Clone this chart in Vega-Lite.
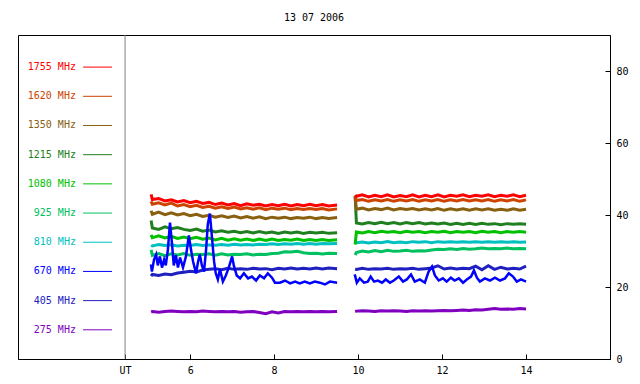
{
"$schema":"https://vega.github.io/schema/vega-lite/v6.json",
"width":592,"height":324,
"autosize":"none",
"padding":{"left":18,"top":35,"right":30,"bottom":25},
"title":{"text":"13 07 2006","font":"DejaVu Sans Mono","fontSize":10,"fontWeight":"normal","color":"black","anchor":"middle","offset":12},
"config":{"view":{"stroke":"black","strokeWidth":1},"axis":{"labelFont":"DejaVu Sans Mono","labelFontSize":10,"labelColor":"black","domainColor":"black","gridOpacity":0,"tickColor":"black"}},
"datasets":{
"leg":[
{"k":"r","label":"1755 MHz","rank":10},{"k":"o","label":"1620 MHz","rank":9},{"k":"b","label":"1350 MHz","rank":8},{"k":"g","label":"1215 MHz","rank":7},{"k":"l","label":"1080 MHz","rank":6},{"k":"e","label":"925 MHz","rank":5},{"k":"c","label":"810 MHz","rank":4},{"k":"n","label":"670 MHz","rank":3},{"k":"d","label":"405 MHz","rank":2},{"k":"p","label":"275 MHz","rank":1}],
"wide":[
{"t":5.07,"s":"a","r":45.7,"o":43.8,"b":41.2,"g":38.5,"l":34.5,"e":30.3,"c":31.6,"d":23.0,"p":13.1},
{"t":5.10,"s":"a","r":44.3,"o":43.0,"b":40.2,"g":36.4,"l":33.7,"e":28.8,"c":31.4,"d":23.5,"p":13.2},
{"t":5.25,"s":"a","r":44.6,"o":43.4,"b":40.8,"g":36.0,"l":34.2,"e":29.3,"c":31.8,"d":23.2,"p":13.0},
{"t":5.40,"s":"a","r":43.9,"o":42.8,"b":40.1,"g":36.7,"l":33.6,"e":28.7,"c":31.5,"d":23.6,"p":13.2},
{"t":5.55,"s":"a","r":44.2,"o":43.3,"b":40.6,"g":36.2,"l":34.1,"e":29.2,"c":31.7,"d":23.4,"p":13.3},
{"t":5.70,"s":"a","r":43.6,"o":42.5,"b":40.0,"g":36.5,"l":33.5,"e":28.9,"c":31.4,"d":23.9,"p":13.2},
{"t":5.85,"s":"a","r":44.0,"o":42.9,"b":40.4,"g":36.0,"l":33.9,"e":29.3,"c":31.6,"d":24.1,"p":13.1},
{"t":6.00,"s":"a","r":43.4,"o":42.3,"b":39.8,"g":35.7,"l":33.4,"e":28.8,"c":31.5,"d":24.4,"p":13.2},
{"t":6.15,"s":"a","r":43.8,"o":42.7,"b":40.2,"g":36.1,"l":33.8,"e":29.1,"c":31.8,"d":24.2,"p":13.1},
{"t":6.30,"s":"a","r":43.2,"o":42.1,"b":39.6,"g":35.5,"l":33.3,"e":29.0,"c":31.5,"d":24.7,"p":13.3},
{"t":6.45,"s":"a","r":43.5,"o":42.4,"b":39.9,"g":35.8,"l":33.6,"e":29.2,"c":31.7,"d":24.9,"p":13.2},
{"t":6.60,"s":"a","r":42.9,"o":41.9,"b":39.4,"g":35.3,"l":33.1,"e":28.8,"c":31.6,"d":25.1,"p":13.1},
{"t":6.75,"s":"a","r":43.3,"o":42.3,"b":39.8,"g":35.6,"l":33.5,"e":29.2,"c":31.8,"d":24.8,"p":13.2},
{"t":6.90,"s":"a","r":42.8,"o":41.8,"b":39.3,"g":35.2,"l":33.0,"e":28.9,"c":31.6,"d":25.2,"p":13.1},
{"t":7.05,"s":"a","r":43.2,"o":42.2,"b":39.7,"g":35.5,"l":33.4,"e":29.1,"c":31.9,"d":24.9,"p":13.2},
{"t":7.20,"s":"a","r":42.6,"o":41.7,"b":39.2,"g":35.1,"l":33.0,"e":29.0,"c":31.7,"d":25.1,"p":13.0},
{"t":7.35,"s":"a","r":43.1,"o":42.0,"b":39.6,"g":35.4,"l":33.3,"e":29.2,"c":31.8,"d":24.9,"p":13.1},
{"t":7.50,"s":"a","r":42.7,"o":41.6,"b":39.1,"g":35.0,"l":32.9,"e":28.9,"c":31.7,"d":25.2,"p":13.2},
{"t":7.65,"s":"a","r":43.0,"o":42.0,"b":39.5,"g":35.4,"l":33.3,"e":29.1,"c":31.9,"d":25.0,"p":12.9},
{"t":7.80,"s":"a","r":42.5,"o":41.5,"b":39.0,"g":35.0,"l":32.9,"e":29.0,"c":31.8,"d":25.1,"p":12.6},
{"t":7.95,"s":"a","r":42.9,"o":41.9,"b":39.4,"g":35.3,"l":33.3,"e":29.3,"c":32.0,"d":24.8,"p":13.1},
{"t":8.10,"s":"a","r":42.6,"o":41.6,"b":39.1,"g":34.9,"l":32.9,"e":29.4,"c":31.8,"d":25.2,"p":12.8},
{"t":8.25,"s":"a","r":43.0,"o":41.9,"b":39.4,"g":35.3,"l":33.2,"e":29.8,"c":32.0,"d":25.0,"p":13.2},
{"t":8.40,"s":"a","r":42.5,"o":41.5,"b":39.0,"g":35.0,"l":33.0,"e":29.7,"c":31.9,"d":25.3,"p":13.1},
{"t":8.55,"s":"a","r":42.9,"o":41.8,"b":39.3,"g":35.3,"l":33.3,"e":29.9,"c":32.1,"d":25.0,"p":13.2},
{"t":8.70,"s":"a","r":42.6,"o":41.5,"b":39.1,"g":34.9,"l":32.9,"e":29.5,"c":31.9,"d":25.2,"p":13.1},
{"t":8.85,"s":"a","r":43.0,"o":41.8,"b":39.4,"g":35.2,"l":33.2,"e":29.3,"c":32.1,"d":25.0,"p":13.2},
{"t":9.00,"s":"a","r":42.6,"o":41.5,"b":39.0,"g":35.0,"l":32.9,"e":29.4,"c":31.9,"d":25.3,"p":13.1},
{"t":9.15,"s":"a","r":42.9,"o":41.8,"b":39.3,"g":35.2,"l":33.2,"e":29.2,"c":32.1,"d":25.0,"p":13.2},
{"t":9.30,"s":"a","r":42.5,"o":41.4,"b":39.0,"g":34.9,"l":32.9,"e":29.4,"c":32.0,"d":25.3,"p":13.1},
{"t":9.50,"s":"a","r":42.8,"o":41.7,"b":39.3,"g":35.1,"l":33.1,"e":29.3,"c":32.1,"d":25.1,"p":13.2},
{"t":9.93,"s":"b","r":45.5,"o":45.2,"b":45.0,"g":45.4,"l":31.8,"e":28.9,"c":32.3,"d":25.0,"p":13.2},
{"t":9.96,"s":"b","r":45.2,"o":44.0,"b":41.6,"g":37.8,"l":35.3,"e":29.6,"c":32.3,"d":24.9,"p":13.3},
{"t":10.10,"s":"b","r":45.6,"o":44.3,"b":41.9,"g":37.5,"l":35.0,"e":30.0,"c":32.5,"d":25.2,"p":13.4},
{"t":10.25,"s":"b","r":45.0,"o":43.8,"b":41.4,"g":37.9,"l":35.4,"e":29.7,"c":32.2,"d":24.9,"p":13.3},
{"t":10.40,"s":"b","r":45.5,"o":44.2,"b":41.8,"g":37.6,"l":35.1,"e":30.1,"c":32.5,"d":25.1,"p":13.2},
{"t":10.55,"s":"b","r":45.1,"o":43.9,"b":41.5,"g":38.0,"l":35.5,"e":29.8,"c":32.3,"d":25.0,"p":13.4},
{"t":10.70,"s":"b","r":45.6,"o":44.3,"b":41.9,"g":37.6,"l":35.2,"e":30.2,"c":32.6,"d":25.2,"p":13.3},
{"t":10.85,"s":"b","r":45.0,"o":43.8,"b":41.4,"g":37.9,"l":35.4,"e":29.9,"c":32.3,"d":24.9,"p":13.4},
{"t":11.00,"s":"b","r":45.4,"o":44.2,"b":41.8,"g":37.5,"l":35.1,"e":30.0,"c":32.5,"d":25.1,"p":13.3},
{"t":11.15,"s":"b","r":45.1,"o":43.9,"b":41.5,"g":37.9,"l":35.5,"e":30.2,"c":32.3,"d":25.0,"p":13.2},
{"t":11.30,"s":"b","r":45.6,"o":44.3,"b":41.8,"g":37.6,"l":35.2,"e":29.9,"c":32.6,"d":25.2,"p":13.4},
{"t":11.45,"s":"b","r":45.0,"o":43.8,"b":41.4,"g":37.9,"l":35.4,"e":30.1,"c":32.4,"d":24.9,"p":13.3},
{"t":11.60,"s":"b","r":45.5,"o":44.2,"b":41.7,"g":37.5,"l":35.1,"e":30.0,"c":32.6,"d":25.1,"p":13.4},
{"t":11.75,"s":"b","r":45.1,"o":43.9,"b":41.4,"g":37.8,"l":35.4,"e":30.3,"c":32.3,"d":25.3,"p":13.3},
{"t":11.90,"s":"b","r":45.6,"o":44.3,"b":41.8,"g":37.5,"l":35.2,"e":30.5,"c":32.6,"d":25.9,"p":13.4},
{"t":12.05,"s":"b","r":45.0,"o":43.8,"b":41.3,"g":37.8,"l":35.5,"e":30.4,"c":32.4,"d":25.0,"p":13.5},
{"t":12.20,"s":"b","r":45.5,"o":44.2,"b":41.7,"g":37.4,"l":35.1,"e":30.6,"c":32.6,"d":25.3,"p":13.4},
{"t":12.35,"s":"b","r":45.2,"o":43.9,"b":41.4,"g":37.7,"l":35.4,"e":30.4,"c":32.4,"d":25.0,"p":13.5},
{"t":12.50,"s":"b","r":45.6,"o":44.3,"b":41.7,"g":37.4,"l":35.2,"e":30.7,"c":32.6,"d":25.2,"p":13.6},
{"t":12.65,"s":"b","r":45.1,"o":43.9,"b":41.3,"g":37.7,"l":35.4,"e":30.5,"c":32.4,"d":25.1,"p":13.5},
{"t":12.80,"s":"b","r":45.5,"o":44.2,"b":41.7,"g":37.4,"l":35.1,"e":30.6,"c":32.6,"d":25.8,"p":13.7},
{"t":12.95,"s":"b","r":45.2,"o":43.9,"b":41.4,"g":37.7,"l":35.5,"e":30.8,"c":32.4,"d":24.8,"p":13.6},
{"t":13.10,"s":"b","r":45.6,"o":44.3,"b":41.7,"g":37.4,"l":35.2,"e":30.6,"c":32.6,"d":25.9,"p":13.8},
{"t":13.25,"s":"b","r":45.1,"o":43.8,"b":41.3,"g":37.6,"l":35.4,"e":30.7,"c":32.4,"d":24.9,"p":14.0},
{"t":13.40,"s":"b","r":45.5,"o":44.2,"b":41.6,"g":37.3,"l":35.1,"e":30.6,"c":32.6,"d":25.5,"p":13.8},
{"t":13.55,"s":"b","r":45.2,"o":43.9,"b":41.3,"g":37.6,"l":35.4,"e":30.8,"c":32.4,"d":25.0,"p":13.9},
{"t":13.70,"s":"b","r":45.6,"o":44.3,"b":41.7,"g":37.4,"l":35.2,"e":30.6,"c":32.6,"d":25.2,"p":13.8},
{"t":13.85,"s":"b","r":45.1,"o":43.8,"b":41.3,"g":37.6,"l":35.4,"e":30.7,"c":32.4,"d":25.0,"p":14.0},
{"t":14.00,"s":"b","r":45.5,"o":44.2,"b":41.6,"g":37.4,"l":35.2,"e":30.6,"c":32.5,"d":25.8,"p":13.9}],
"blue":[
{"t":5.067,"s":"a","v":26.3},{"t":5.09,"s":"a","v":24.3},{"t":5.14,"s":"a","v":27.6},{"t":5.19,"s":"a","v":29.0},{"t":5.23,"s":"a","v":26.0},{"t":5.28,"s":"a","v":28.5},{"t":5.33,"s":"a","v":25.4},{"t":5.38,"s":"a","v":27.6},{"t":5.42,"s":"a","v":26.0},{"t":5.47,"s":"a","v":30.4},{"t":5.52,"s":"a","v":37.9},{"t":5.57,"s":"a","v":31.8},{"t":5.61,"s":"a","v":26.0},{"t":5.66,"s":"a","v":28.8},{"t":5.71,"s":"a","v":25.4},{"t":5.76,"s":"a","v":28.2},{"t":5.83,"s":"a","v":25.4},{"t":5.90,"s":"a","v":28.5},{"t":5.97,"s":"a","v":34.3},{"t":6.02,"s":"a","v":30.4},{"t":6.07,"s":"a","v":27.1},{"t":6.14,"s":"a","v":23.8},{"t":6.19,"s":"a","v":27.1},{"t":6.23,"s":"a","v":29.0},{"t":6.28,"s":"a","v":26.0},{"t":6.33,"s":"a","v":24.3},{"t":6.38,"s":"a","v":30.4},{"t":6.42,"s":"a","v":37.4},{"t":6.47,"s":"a","v":40.4},{"t":6.52,"s":"a","v":33.8},{"t":6.57,"s":"a","v":27.1},{"t":6.61,"s":"a","v":23.8},{"t":6.66,"s":"a","v":22.1},{"t":6.71,"s":"a","v":24.9},{"t":6.78,"s":"a","v":21.5},{"t":6.85,"s":"a","v":23.2},{"t":6.92,"s":"a","v":25.4},{"t":7.00,"s":"a","v":28.5},{"t":7.04,"s":"a","v":26.0},{"t":7.11,"s":"a","v":23.2},{"t":7.19,"s":"a","v":22.4},{"t":7.28,"s":"a","v":23.8},{"t":7.38,"s":"a","v":22.4},{"t":7.47,"s":"a","v":22.9},{"t":7.57,"s":"a","v":21.8},{"t":7.66,"s":"a","v":23.2},{"t":7.76,"s":"a","v":22.4},{"t":7.85,"s":"a","v":23.8},{"t":7.95,"s":"a","v":22.6},{"t":8.02,"s":"a","v":21.2},{"t":8.14,"s":"a","v":21.2},{"t":8.26,"s":"a","v":21.8},{"t":8.38,"s":"a","v":21.0},{"t":8.50,"s":"a","v":21.5},{"t":8.61,"s":"a","v":21.0},{"t":8.73,"s":"a","v":21.5},{"t":8.85,"s":"a","v":21.0},{"t":8.97,"s":"a","v":21.5},{"t":9.09,"s":"a","v":21.2},{"t":9.21,"s":"a","v":20.7},{"t":9.33,"s":"a","v":21.5},{"t":9.50,"s":"a","v":21.2},
{"t":9.92,"s":"b","v":23.5},{"t":9.97,"s":"b","v":21.2},{"t":10.04,"s":"b","v":22.4},{"t":10.14,"s":"b","v":21.2},{"t":10.23,"s":"b","v":21.5},{"t":10.30,"s":"b","v":22.9},{"t":10.38,"s":"b","v":21.5},{"t":10.47,"s":"b","v":21.8},{"t":10.57,"s":"b","v":21.2},{"t":10.66,"s":"b","v":22.1},{"t":10.76,"s":"b","v":21.2},{"t":10.85,"s":"b","v":21.8},{"t":10.97,"s":"b","v":22.9},{"t":11.07,"s":"b","v":21.5},{"t":11.16,"s":"b","v":22.1},{"t":11.26,"s":"b","v":23.5},{"t":11.35,"s":"b","v":21.5},{"t":11.47,"s":"b","v":22.1},{"t":11.59,"s":"b","v":21.2},{"t":11.68,"s":"b","v":24.3},{"t":11.76,"s":"b","v":25.7},{"t":11.83,"s":"b","v":23.2},{"t":11.92,"s":"b","v":21.8},{"t":12.02,"s":"b","v":22.4},{"t":12.11,"s":"b","v":21.5},{"t":12.21,"s":"b","v":22.6},{"t":12.30,"s":"b","v":21.8},{"t":12.40,"s":"b","v":22.4},{"t":12.50,"s":"b","v":21.2},{"t":12.59,"s":"b","v":22.1},{"t":12.69,"s":"b","v":22.9},{"t":12.76,"s":"b","v":24.6},{"t":12.83,"s":"b","v":22.6},{"t":12.90,"s":"b","v":21.5},{"t":13.02,"s":"b","v":22.4},{"t":13.14,"s":"b","v":21.8},{"t":13.26,"s":"b","v":22.6},{"t":13.38,"s":"b","v":21.8},{"t":13.50,"s":"b","v":22.4},{"t":13.59,"s":"b","v":23.8},{"t":13.69,"s":"b","v":22.9},{"t":13.78,"s":"b","v":21.5},{"t":13.88,"s":"b","v":22.1},{"t":14.00,"s":"b","v":21.5}]
},
"layer":[
  {"data":{"name":"wide"},
   "transform":[{"fold":["p","d","e","c","l","g","b","o","r"],"as":["k","v"]}],
   "mark":{"type":"line","strokeWidth":3},
   "encoding":{
    "x":{"field":"t","type":"quantitative","scale":{"domain":[1.9,16],"nice":false,"zero":false},
     "axis":{"orient":"bottom","values":[4.45,6,8,10,12,14],"labelExpr":"datum.value < 5 ? 'UT' : datum.label","tickSize":-5,"labelPadding":11,"title":null}},
    "y":{"field":"v","type":"quantitative","scale":{"domain":[0,90],"nice":false},"axis":{"orient":"right","values":[0,20,40,60,80],"tickSize":-5,"labelPadding":11,"title":null}},
    "color":{"field":"k","type":"nominal","scale":{"domain":["r","o","b","g","l","e","c","n","d","p"],"range":["#ff0000","#cc4400","#886010","#208020","#00c000","#00c060","#00c0c0","#0000ff","#2020c0","#8000c0"]},"legend":null},
    "detail":{"field":"s"}}},
  {"data":{"name":"blue"},
   "mark":{"type":"line","strokeWidth":2.5,"color":"#0000ff"},
   "encoding":{
    "x":{"field":"t","type":"quantitative"},
    "y":{"field":"v","type":"quantitative","scale":{"domain":[0,90],"nice":false},"axis":null},
    "detail":{"field":"s"}}},
  {"data":{"values":[{"sep":"UT"}]},
   "mark":{"type":"rule","color":"#808080","strokeWidth":1},
   "encoding":{"x":{"datum":4.45,"type":"quantitative"}}},
  {"data":{"name":"leg"},
   "mark":{"type":"text","align":"right","baseline":"middle","font":"DejaVu Sans Mono","fontSize":10},
   "encoding":{
    "x":{"datum":3.28,"type":"quantitative"},
    "y":{"field":"rank","type":"quantitative","scale":{"domain":[0,11.1],"nice":false},"axis":null},
    "text":{"field":"label"},
    "color":{"field":"k","type":"nominal"}}},
  {"data":{"name":"leg"},
   "mark":{"type":"rule","strokeWidth":1},
   "encoding":{
    "x":{"datum":3.45,"type":"quantitative"},
    "x2":{"datum":4.14},
    "y":{"field":"rank","type":"quantitative","scale":{"domain":[0,11.1],"nice":false},"axis":null},
    "color":{"field":"k","type":"nominal"}}}
],
"resolve":{"scale":{"y":"independent"},"axis":{"y":"independent"}}
}
